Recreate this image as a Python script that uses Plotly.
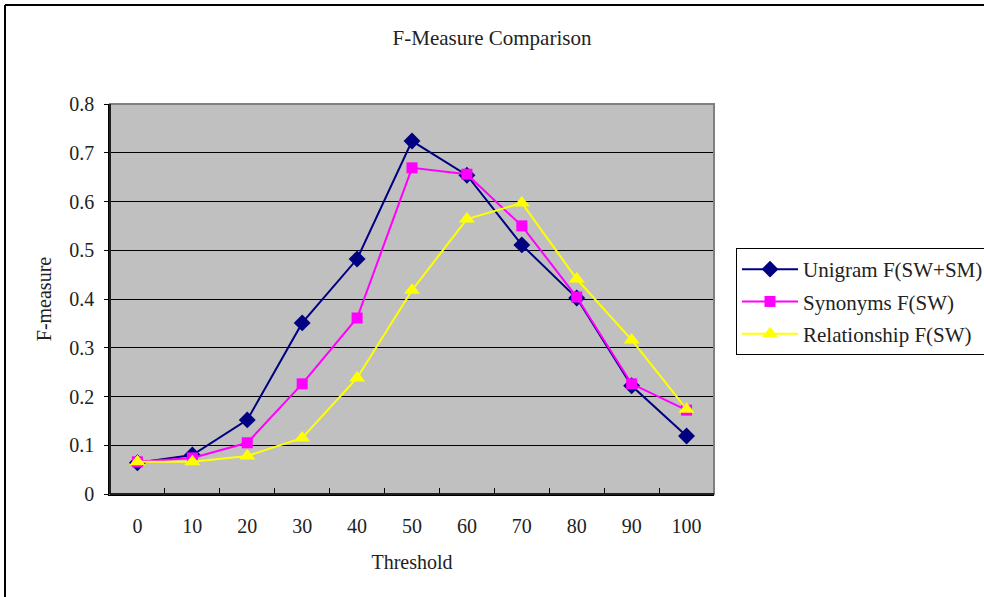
import plotly.graph_objects as go

thresholds = ["0", "10", "20", "30", "40", "50", "60", "70", "80", "90", "100"]
unigram = [0.064, 0.080, 0.152, 0.351, 0.482, 0.724, 0.654, 0.511, 0.402, 0.222, 0.119]
synonyms = [0.066, 0.074, 0.105, 0.226, 0.361, 0.669, 0.656, 0.550, 0.404, 0.226, 0.172]
relationship = [0.066, 0.066, 0.078, 0.115, 0.238, 0.418, 0.564, 0.597, 0.441, 0.316, 0.174]
y_ticks = [0, 0.1, 0.2, 0.3, 0.4, 0.5, 0.6, 0.7, 0.8]
y_labels = ["0", "0.1", "0.2", "0.3", "0.4", "0.5", "0.6", "0.7", "0.8"]

FONT = "Liberation Serif, Times New Roman, serif"
TXT = "#222222"

fig = go.Figure()
fig.add_trace(go.Scatter(x=thresholds, y=unigram, name="Unigram F(SW+SM)", mode="lines+markers",
                         legendgroup="a",
                         line=dict(color="#000080", width=2),
                         marker=dict(symbol="diamond", size=13, color="#000080")))
fig.add_trace(go.Scatter(x=thresholds, y=synonyms, name="Synonyms F(SW)", mode="lines+markers",
                         legendgroup="b",
                         line=dict(color="#FF00FF", width=2),
                         marker=dict(symbol="square", size=11, color="#FF00FF")))
fig.add_trace(go.Scatter(x=thresholds, y=relationship, name="Relationship F(SW)", mode="lines+markers",
                         legendgroup="c",
                         line=dict(color="#FFFF00", width=2),
                         marker=dict(symbol="triangle-up", size=14, color="#FFFF00")))

fig.update_layout(
    width=984, height=597,
    margin=dict(l=110, r=270, t=104, b=103, autoexpand=False),
    paper_bgcolor="white", plot_bgcolor="#C0C0C0",
    font=dict(family=FONT, size=20, color=TXT),
    title=dict(text="F-Measure Comparison", x=0.5, xref="container", xanchor="center",
               y=1 - 38 / 597, yref="container", yanchor="middle",
               font=dict(family=FONT, size=21, color=TXT)),
    showlegend=True,
    legend=dict(xref="container", yref="container",
                x=736 / 984, xanchor="left", y=1 - 248 / 597, yanchor="top",
                bordercolor="#000000", borderwidth=1, bgcolor="white",
                font=dict(family=FONT, size=21, color=TXT),
                tracegroupgap=2, itemwidth=56),
    xaxis=dict(type="category", range=[-0.5, 10.5],
               title=dict(text="Threshold", standoff=19, font=dict(family=FONT, size=20, color=TXT)),
               tickfont=dict(family=FONT, size=20, color=TXT),
               tickson="boundaries", ticks="inside", ticklen=6, tickcolor="#000000",
               ticklabelstandoff=13,
               showgrid=False, showline=True, linecolor="#000000", linewidth=1.5,
               mirror=False, zeroline=False),
    yaxis=dict(range=[0, 0.8], tickvals=y_ticks, ticktext=y_labels,
               title=dict(text="F-measure", standoff=12, font=dict(family=FONT, size=20, color=TXT)),
               tickfont=dict(family=FONT, size=20, color=TXT),
               ticks="outside", ticklen=4, tickcolor="#000000",
               ticklabelstandoff=6,
               showgrid=True, gridcolor="#000000", gridwidth=1,
               showline=True, linecolor="#000000", linewidth=1.5, zeroline=False),
    shapes=[
        dict(type="rect", xref="paper", yref="paper", x0=0, x1=1, y0=0, y1=1,
             line=dict(color="#808080", width=2), fillcolor="rgba(0,0,0,0)", layer="above"),
        dict(type="line", xref="paper", yref="paper", x0=0, x1=0, y0=0, y1=1,
             line=dict(color="#000000", width=1.5), layer="above"),
        dict(type="line", xref="paper", yref="paper", x0=0, x1=1, y0=0, y1=0,
             line=dict(color="#000000", width=1.5), layer="above"),
        dict(type="line", xref="paper", yref="paper",
             x0=(5 - 110) / 604, x1=(5 - 110) / 604, y0=-200 / 390, y1=(494 - 5) / 390,
             line=dict(color="#000000", width=2)),
        dict(type="line", xref="paper", yref="paper",
             x0=(5 - 110) / 604, x1=(1000 - 110) / 604, y0=(494 - 5) / 390, y1=(494 - 5) / 390,
             line=dict(color="#000000", width=2)),
    ],
)

fig.write_html("out.html")
